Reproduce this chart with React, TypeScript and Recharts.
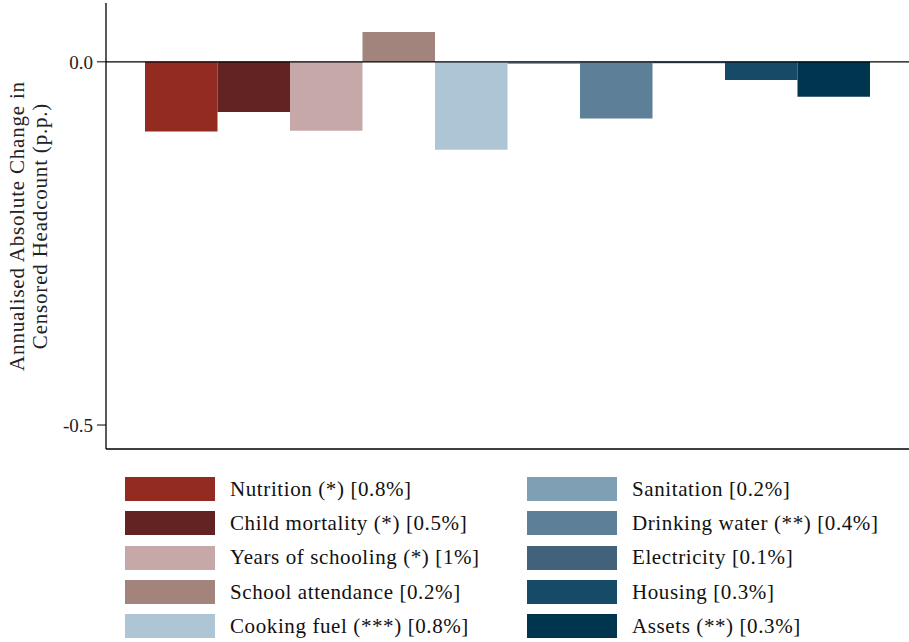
import { BarChart, Bar, XAxis, YAxis, ReferenceLine } from 'recharts';

const dimensions = [
  'Nutrition', 'Child mortality', 'Years of schooling', 'School attendance', 'Cooking fuel',
  'Sanitation', 'Drinking water', 'Electricity', 'Housing', 'Assets',
];
const legendLabels = [
  'Nutrition (*) [0.8%]', 'Child mortality (*) [0.5%]', 'Years of schooling (*) [1%]',
  'School attendance [0.2%]', 'Cooking fuel (***) [0.8%]', 'Sanitation [0.2%]',
  'Drinking water (**) [0.4%]', 'Electricity [0.1%]', 'Housing [0.3%]', 'Assets (**) [0.3%]',
];
const changes = [-0.096, -0.069, -0.095, 0.041, -0.121, -0.003, -0.078, -0.002, -0.025, -0.048];
const yTicks = [0, -0.5];
const colors = [
  '#932B20', '#632323', '#C6A8A9', '#A3847D', '#AEC5D5',
  '#7F9FB4', '#5E7F98', '#42627C', '#174A67', '#00354F',
];

const row: Record<string, number | string> = { name: 'all' };
dimensions.forEach((d, i) => { row[d] = changes[i]; });
const chartData = [row];

const FONT = '"Liberation Serif", "DejaVu Serif", serif';

function AxisTitle(props: any) {
  const { viewBox } = props;
  const cy = viewBox.y + viewBox.height / 2;
  return (
    <text transform={`rotate(-90, 0, ${cy})`} x={0} y={cy} textAnchor="middle" fontFamily={FONT}
      fontSize={21} letterSpacing={0.8} fill="#222">
      <tspan x={0} dy={24}>Annualised Absolute Change in</tspan>
      <tspan x={0} dy={23}>Censored Headcount (p.p.)</tspan>
    </text>
  );
}

function LegendBox() {
  const half = Math.ceil(dimensions.length / 2);
  const cols = [dimensions.slice(0, half), dimensions.slice(half)];
  return (
    <div style={{ display: 'flex', fontFamily: FONT, fontSize: 21, letterSpacing: 0.6, color: '#111' }}>
      {cols.map((col, c) => (
        <div key={c} style={{ marginLeft: c === 0 ? 125 : 0, width: c === 0 ? 402 : 380 }}>
          {col.map((d, j) => {
            const i = c * half + j;
            return (
              <div key={d} style={{ display: 'flex', alignItems: 'center', height: 34.3 }}>
                <div style={{ width: 90, height: 24, background: colors[i], marginRight: 15, flexShrink: 0 }} />
                <span style={{ whiteSpace: 'nowrap' }}>{legendLabels[i]}</span>
              </div>
            );
          })}
        </div>
      ))}
    </div>
  );
}

export default function App() {
  return (
    <div style={{ position: 'absolute', left: 0, top: 0, width: 909, height: 642, background: '#fff' }}>
      <BarChart
        width={909}
        height={642}
        data={chartData}
        margin={{ top: 3, right: 0, bottom: 192, left: 0 }}
        barGap={0}
        barSize={72.5}
      >
        <XAxis dataKey="name" tick={false} tickLine={false} height={1} axisLine={{ stroke: '#000', strokeWidth: 1.3 }} />
        <YAxis
          width={106}
          domain={[-0.533, 0.081]}
          ticks={yTicks}
          tickFormatter={(v: number) => v.toFixed(1)}
          tick={{ fontFamily: FONT, fontSize: 19, fill: '#222' }}
          tickSize={9}
          tickMargin={4}
          axisLine={{ stroke: '#000', strokeWidth: 1.3 }}
          tickLine={{ stroke: '#000' }}
          label={<AxisTitle />}
        />
        {dimensions.map((d, i) => (
          <Bar key={d} dataKey={d} fill={colors[i]} isAnimationActive={false} />
        ))}
        <ReferenceLine y={0} stroke="#000" strokeWidth={1.3} />
      </BarChart>
      <div style={{ position: 'absolute', left: 0, top: 472, width: 909 }}>
        <LegendBox />
      </div>
    </div>
  );
}
